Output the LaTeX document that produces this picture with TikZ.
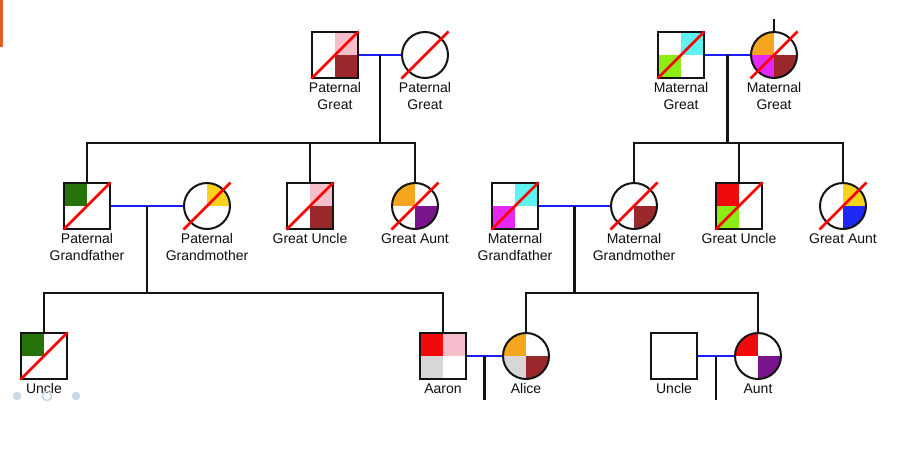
\documentclass[tikz,border=0pt]{standalone}
\usepackage{fontspec}
\setmainfont{Liberation Sans}
\usetikzlibrary{calc}
\definecolor{cPink}{RGB}{246,190,202}
\definecolor{cDkRed}{RGB}{155,40,42}
\definecolor{cCyan}{RGB}{95,242,242}
\definecolor{cLime}{RGB}{140,236,22}
\definecolor{cOrange}{RGB}{245,166,30}
\definecolor{cMagenta}{RGB}{230,40,245}
\definecolor{cDkGreen}{RGB}{38,115,12}
\definecolor{cGold}{RGB}{250,210,30}
\definecolor{cPurple}{RGB}{122,20,140}
\definecolor{cRed}{RGB}{240,10,12}
\definecolor{cBlue}{RGB}{30,40,245}
\definecolor{cGrey}{RGB}{215,215,215}
\definecolor{cLine}{RGB}{20,20,20}
\definecolor{cText}{RGB}{15,15,15}
\definecolor{cDot}{RGB}{200,216,228}
\definecolor{cBar}{RGB}{230,92,40}
\definecolor{cCouple}{RGB}{25,30,250}
\tikzset{
  person/.style={draw=cLine, line width=2pt, minimum size=46pt, inner sep=0pt, fill=white},
  male/.style={person, rectangle},
  female/.style={person, circle},
  quads/.style n args={4}{path picture={
    \fill[#1] (path picture bounding box.north west) rectangle (path picture bounding box.center);
    \fill[#2] (path picture bounding box.north east) rectangle (path picture bounding box.center);
    \fill[#3] (path picture bounding box.south west) rectangle (path picture bounding box.center);
    \fill[#4] (path picture bounding box.south east) rectangle (path picture bounding box.center);}},
  lbl/.style={anchor=north, inner sep=0pt, align=center, text=cText,
    font=\fontsize{14}{17}\selectfont},
  kin/.style={draw=cLine, line width=2.2pt},
  couple/.style={draw=cCouple, line width=2.5pt},
  slashline/.style={draw=red, line width=2.5pt},
}
\newcommand\deceased[1]{\draw[slashline] ($(#1.center)+(-23.5,23.5)$) -- ($(#1.center)+(23.5,-23.5)$);}
\newcommand\plabel[3]{\node[lbl] (#1) at ([yshift=-3.5pt]#2.south) {#3};}
\begin{document}
\begin{tikzpicture}[x=1pt,y=-1pt]
\useasboundingbox (0,0) rectangle (900,456);
\fill[white] (0,0) rectangle (900,456);
\fill[cBar] (0,0) rectangle (2.5,47);

% bar levels
\coordinate (bar1) at (0,143);
\coordinate (bar2) at (0,293);
\coordinate (bottom) at (0,400);
\coordinate (topend) at (774,19);

% row 1
\node[male, quads={white}{cPink}{white}{cDkRed}] (PGGF) at (335,55) {};
\node[female] (PGGM) at (425,55) {};
\node[male, quads={white}{cCyan}{cLime}{white}] (MGGF) at (681,55) {};
\node[female, quads={cOrange}{white}{cMagenta}{cDkRed}] (MGGM) at (774,55) {};

% row 2
\node[male, quads={cDkGreen}{white}{white}{white}] (PGF) at (87,206) {};
\node[female, quads={white}{cGold}{white}{white}] (PGM) at (207,206) {};
\node[male, quads={white}{cPink}{white}{cDkRed}] (PGU) at (310,206) {};
\node[female, quads={cOrange}{white}{white}{cPurple}] (PGA) at (415,206) {};
\node[male, quads={white}{cCyan}{cMagenta}{white}] (MGF) at (515,206) {};
\node[female, quads={white}{white}{white}{cDkRed}] (MGM) at (634,206) {};
\node[male, quads={cRed}{white}{cLime}{white}] (MGU) at (739,206) {};
\node[female, quads={white}{cGold}{white}{cBlue}] (MGA) at (843,206) {};

% row 3
\node[male, quads={cDkGreen}{white}{white}{white}] (U1) at (44,356) {};
\node[male, quads={cRed}{cPink}{cGrey}{white}] (Aaron) at (443,356) {};
\node[female, quads={cOrange}{white}{cGrey}{cDkRed}] (Alice) at (526,356) {};
\node[male] (U2) at (674,356) {};
\node[female, quads={cRed}{white}{white}{cPurple}] (Aunt) at (758,356) {};

% couple midpoints
\coordinate (c1) at ($(PGGF.east)!0.5!(PGGM.west)$);
\coordinate (c2) at ($(MGGF.east)!0.5!(MGGM.west)$);
\coordinate (c3) at ($(PGF.east)!0.5!(PGM.west)$);
\coordinate (c4) at ($(MGF.east)!0.5!(MGM.west)$);
\coordinate (c5) at ($(Aaron.east)!0.5!(Alice.west)$);
\coordinate (c6) at ($(U2.east)!0.5!(Aunt.west)$);

% couple lines
\draw[couple] (PGGF.east) -- (PGGM.west);
\draw[couple] (MGGF.east) -- (MGGM.west);
\draw[couple] (PGF.east) -- (PGM.west);
\draw[couple] (MGF.east) -- (MGM.west);
\draw[couple] (Aaron.east) -- (Alice.west);
\draw[couple] (U2.east) -- (Aunt.west);

% descent lines
\draw[kin] (MGGM.north) -- (MGGM.north |- topend);
\draw[kin] (c1) -- (c1 |- bar1);
\draw[kin] (PGF.north) -- (PGF.north |- bar1) -- (PGA.north |- bar1) -- (PGA.north);
\draw[kin] (PGU.north) -- (PGU.north |- bar1);
\draw[kin] (c2) -- (c2 |- bar1);
\draw[kin] (MGM.north) -- (MGM.north |- bar1) -- (MGA.north |- bar1) -- (MGA.north);
\draw[kin] (MGU.north) -- (MGU.north |- bar1);
\draw[kin] (c3) -- (c3 |- bar2);
\draw[kin] (U1.north) -- (U1.north |- bar2) -- (Aaron.north |- bar2) -- (Aaron.north);
\draw[kin] (c4) -- (c4 |- bar2);
\draw[kin] (Alice.north) -- (Alice.north |- bar2) -- (Aunt.north |- bar2) -- (Aunt.north);
\draw[kin] (c5) -- (c5 |- bottom);
\draw[kin] (c6) -- (c6 |- bottom);

% deceased marks
\deceased{PGGF}\deceased{PGGM}\deceased{MGGF}\deceased{MGGM}
\deceased{PGF}\deceased{PGM}\deceased{PGU}\deceased{PGA}
\deceased{MGF}\deceased{MGM}\deceased{MGU}\deceased{MGA}
\deceased{U1}

% labels
\plabel{lPGGF}{PGGF}{Paternal\\Great}
\plabel{lPGGM}{PGGM}{Paternal\\Great}
\plabel{lMGGF}{MGGF}{Maternal\\Great}
\plabel{lMGGM}{MGGM}{Maternal\\Great}
\plabel{lPGF}{PGF}{Paternal\\Grandfather}
\plabel{lPGM}{PGM}{Paternal\\Grandmother}
\plabel{lPGU}{PGU}{Great Uncle}
\plabel{lPGA}{PGA}{Great Aunt}
\plabel{lMGF}{MGF}{Maternal\\Grandfather}
\plabel{lMGM}{MGM}{Maternal\\Grandmother}
\plabel{lMGU}{MGU}{Great Uncle}
\plabel{lMGA}{MGA}{Great Aunt}
\plabel{lU1}{U1}{Uncle}
\plabel{lAaron}{Aaron}{Aaron}
\plabel{lAlice}{Alice}{Alice}
\plabel{lU2}{U2}{Uncle}
\plabel{lAunt}{Aunt}{Aunt}

% overlay dots
\fill[cDot] (17,396) circle (4.2);
\draw[cDot, line width=1.6pt] (47,396) circle (4.6);
\fill[cDot] (76,396) circle (4.2);
\end{tikzpicture}
\end{document}
